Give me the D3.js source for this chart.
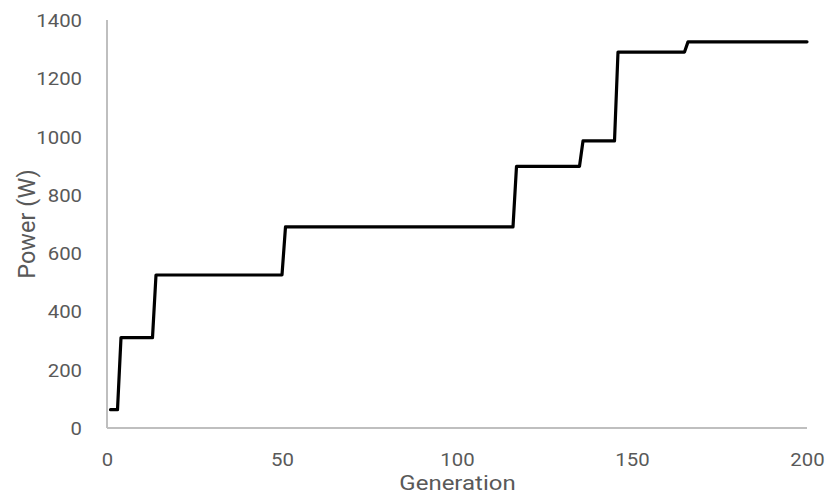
<!DOCTYPE html>
<html>
<head>
<meta charset="utf-8">
<script src="https://cdn.jsdelivr.net/npm/d3@7"></script>
<style>
  html, body { margin: 0; padding: 0; background: #fff; }
  svg text { font-family: Roboto, "Open Sans", sans-serif; fill: #595959; }
</style>
</head>
<body>
<svg id="chart" width="826" height="495"></svg>
<script>
// Data: step points (generation, power in W)
const generations = [1, 3, 4, 13, 14, 50, 51, 116, 117, 135, 136, 145, 146, 165, 166, 200];
const powers      = [63, 63, 310, 310, 525, 525, 690, 690, 898, 898, 985, 985, 1290, 1290, 1325, 1325];
const xTicks = [0, 50, 100, 150, 200];
const yTicks = [0, 200, 400, 600, 800, 1000, 1200, 1400];
const xTitle = "Generation";
const yTitle = "Power (W)";

const svg = d3.select("#chart");
const x = d3.scaleLinear().domain([0, 200]).range([107, 807]);
const y = d3.scaleLinear().domain([0, 1400]).range([428, 20]);

// horizontally widen a text slightly (reference glyphs are wide)
function widen(sel, factor) {
  sel.each(function () {
    const w = this.getComputedTextLength();
    d3.select(this).attr("textLength", (w * factor).toFixed(1)).attr("lengthAdjust", "spacingAndGlyphs");
  });
}

// axis lines
svg.append("line").attr("x1", x(0)).attr("x2", x(200)).attr("y1", y(0)).attr("y2", y(0))
  .attr("stroke", "#bfbfbf").attr("stroke-width", 2);
svg.append("line").attr("x1", x(0)).attr("x2", x(0)).attr("y1", y(0)).attr("y2", y(1400))
  .attr("stroke", "#bfbfbf").attr("stroke-width", 2);

// y tick labels
const yAxis = d3.axisLeft(y).tickValues(yTicks).tickFormat(d3.format("d")).tickSize(0).tickPadding(0);
const gy = svg.append("g").attr("transform", "translate(82,0)").call(yAxis);
gy.select(".domain").remove();
gy.selectAll("text").style("font-size", "18px").attr("fill", "#595959")
  .style("font-family", "Roboto, sans-serif").attr("dy", "0.36em");
widen(gy.selectAll("text"), 1.13);

// x tick labels
const xAxis = d3.axisBottom(x).tickValues(xTicks).tickFormat(d3.format("d")).tickSize(0).tickPadding(0);
const gx = svg.append("g").call(xAxis);
gx.select(".domain").remove();
gx.selectAll("text").style("font-size", "18px").attr("fill", "#595959")
  .style("font-family", "Roboto, sans-serif").attr("dy", null).attr("y", 465.5);
widen(gx.selectAll("text"), 1.13);

// axis titles
const xt = svg.append("text").attr("x", x(100) + 0.5).attr("y", 489.5).attr("text-anchor", "middle")
  .style("font-size", "20.5px").text(xTitle);
widen(xt, 1.17);
svg.append("text").attr("transform", "translate(35,224) rotate(-90)")
  .attr("text-anchor", "middle").style("font-size", "23.5px").text(yTitle);

// line
const pts = generations.map((g, i) => [g, powers[i]]);
const line = d3.line().x(d => x(d[0])).y(d => y(d[1]));
svg.append("path").datum(pts).attr("d", line)
  .attr("fill", "none").attr("stroke", "#000").attr("stroke-width", 3.2)
  .attr("stroke-linejoin", "round").attr("stroke-linecap", "round");
</script>
</body>
</html>
